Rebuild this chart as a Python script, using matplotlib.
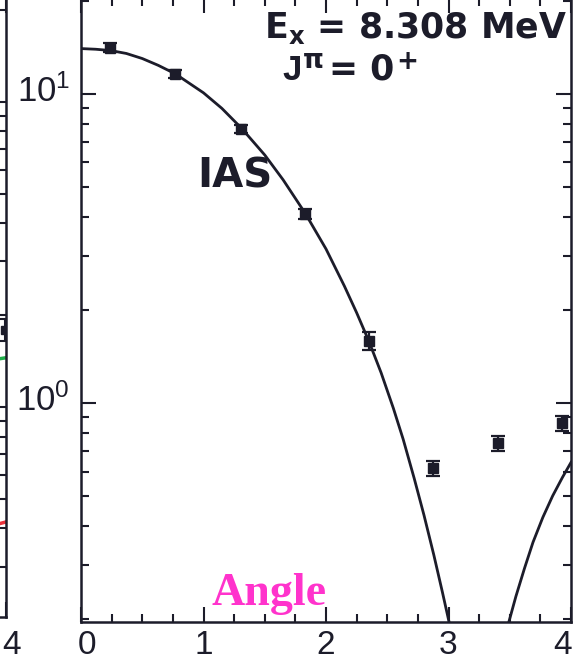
import matplotlib
matplotlib.use('Agg')
import matplotlib.pyplot as plt
import matplotlib.transforms as mtransforms
from matplotlib.ticker import MultipleLocator, LogLocator, NullFormatter

# Data: IAS differential cross section vs angle
angle = [0.24, 0.77, 1.31, 1.83, 2.35, 2.87, 3.40, 3.93]
sigma = [14.1, 11.6, 7.7, 4.08, 1.59, 0.616, 0.742, 0.86]
sigma_err = [0.45, 0.35, 0.25, 0.15, 0.11, 0.033, 0.04, 0.045]

# calculated curve, first lobe and start of the second
fit_angle = [0.0, 0.12, 0.24, 0.37, 0.5, 0.63, 0.77, 1.0, 1.15, 1.31, 1.5,
             1.65, 1.83, 2.0, 2.15, 2.25, 2.35, 2.45, 2.55, 2.63, 2.72, 2.8,
             2.88, 2.95, 3.02]
fit_sigma = [14.0, 13.93, 13.8, 13.5, 13.0, 12.36, 11.6, 10.07, 8.97, 7.74,
             6.34, 5.27, 4.11, 3.15, 2.39, 1.96, 1.585, 1.253, 0.962, 0.764,
             0.571, 0.434, 0.323, 0.245, 0.184]
fit2_angle = [3.48, 3.55, 3.62, 3.69, 3.77, 3.85, 3.93, 4.0]
fit2_sigma = [0.188, 0.237, 0.292, 0.355, 0.427, 0.501, 0.575, 0.643]

# neighbouring panel (only its right edge is shown)
prev_angle = [3.99]
prev_sigma = [1.79]
prev_err = [0.15]
prev_green_angle = [3.9, 4.0]
prev_green_sigma = [1.43, 1.45]
prev_red_angle = [3.9, 4.0]
prev_red_sigma = [0.41, 0.42]

xticks = [0, 1, 2, 3, 4]

W, H = 585, 663
ink = '#1c1c2a'
plt.rcParams['font.family'] = ['Liberation Sans', 'DejaVu Sans']
plt.rcParams['axes.linewidth'] = 1.8


def px_box(l, t, r, b):
    return [l / W, 1 - b / H, (r - l) / W, (b - t) / H]


def style_ticks(a):
    a.tick_params(which='both', direction='in', top=True, right=True,
                  width=1.5, colors=ink, labelcolor=ink)
    a.tick_params(which='major', length=10.5)
    a.tick_params(which='minor', length=5.5)
    a.tick_params(axis='x', labelsize=24, pad=6)
    a.tick_params(axis='y', labelsize=25, pad=8)
    for s in a.spines.values():
        s.set_color(ink)


def shift(lbl, dx, dy):
    lbl.set_transform(lbl.get_transform() + mtransforms.ScaledTranslation(
        dx / 100, dy / 100, fig.dpi_scale_trans))


fig = plt.figure(figsize=(W / 100, H / 100), dpi=100)

# left neighbour panel
axl = fig.add_axes(px_box(-483, -2, 6, 617))
axl.set_yscale('log')
axl.set_xlim(0, 4)
axl.set_ylim(0.205, 21.9)
axl.errorbar(prev_angle, prev_sigma, yerr=prev_err, fmt='s', color=ink,
             ms=6, capsize=4, elinewidth=1.5, capthick=1.5)
axl.plot(prev_green_angle, prev_green_sigma, color='#1fae4a', lw=2.5)
axl.plot(prev_red_angle, prev_red_sigma, color='#e8303a', lw=2.5)
axl.set_xticks(xticks, ['', '', '', '', '4'])
axl.xaxis.set_minor_locator(MultipleLocator(0.25))
axl.yaxis.set_minor_formatter(NullFormatter())
style_ticks(axl)
axl.tick_params(axis='y', labelleft=False)

# main panel
ax = fig.add_axes(px_box(81, -2, 571, 622))
ax.set_yscale('log')
ax.set_xlim(0, 4)
ax.set_ylim(0.196, 20.4)
ax.plot(fit_angle, fit_sigma, color=ink, lw=2.0)
ax.plot(fit2_angle, fit2_sigma, color=ink, lw=2.0)
ax.errorbar(angle, sigma, yerr=sigma_err, fmt='s', color=ink, ms=6.5,
            capsize=5, elinewidth=1.6, capthick=1.6, zorder=3)
ax.set_xticks(xticks)
ax.xaxis.set_minor_locator(MultipleLocator(0.25))
ax.yaxis.set_major_locator(LogLocator(base=10))
ax.yaxis.set_minor_locator(LogLocator(base=10, subs=range(2, 10)))
ax.yaxis.set_minor_formatter(NullFormatter())
style_ticks(ax)

# nudge the end labels inwards, and the decade labels up a little
fig.canvas.draw()
xl = ax.get_xticklabels()
shift(xl[0], 6, 0)
shift(xl[-1], -8, 0)
for lbl in axl.get_xticklabels():
    shift(lbl, 6, -5)
for lbl in ax.get_yticklabels():
    shift(lbl, 0, 6)

# annotations
bold = dict(fontweight='bold', color=ink, family='DejaVu Sans', va='baseline')
fig.text(567 / W, 1 - 38 / H, r'E$_{\mathbf{x}}$ = 8.308 MeV', ha='right',
         fontsize=25, **bold)
fig.text(282 / W, 1 - 80 / H, 'J', ha='left', fontsize=25, fontweight='bold',
         color=ink, family='Liberation Sans', va='baseline')
fig.text(303 / W, 1 - 68 / H, 'π', ha='left', fontsize=19, **bold)
fig.text(329 / W, 1 - 80 / H, '= 0', ha='left', fontsize=25, **bold)
fig.text(396 / W, 1 - 69 / H, '+', ha='left', fontsize=19, **bold)
fig.text(197 / W, 1 - 188 / H, 'IAS', ha='left', fontsize=29, **bold)
fig.text(212 / W, 1 - 605 / H, 'Angle', ha='left', va='baseline',
         fontsize=33, fontweight='bold', color='#ff33cc',
         family='Liberation Serif')

fig.savefig('out.png', dpi=100)
